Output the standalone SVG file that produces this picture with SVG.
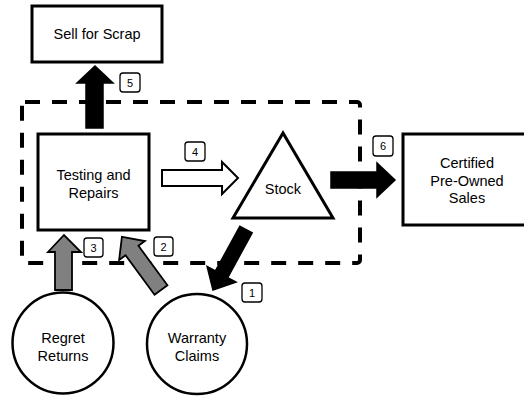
<svg xmlns="http://www.w3.org/2000/svg" width="524" height="400" viewBox="0 0 524 400">
<style>
text{font-family:"Liberation Sans",Arial,sans-serif;fill:#000;text-anchor:middle}
.n{font-size:14.5px}
.lb{font-size:11px}
.box{fill:#fff;stroke:#000;stroke-width:3}
.lbox{fill:#fff;stroke:#000;stroke-width:1.3}
.blk{fill:#000;stroke:#000;stroke-width:1.5;stroke-linejoin:miter}
.gry{fill:#808080;stroke:#000;stroke-width:1.8;stroke-linejoin:miter}
.wht{fill:#fff;stroke:#000;stroke-width:2;stroke-linejoin:miter}
</style>
<rect id="boundary" x="22" y="102" width="338" height="161" rx="3" fill="none" stroke="#000" stroke-width="4" stroke-dasharray="15 12"/>
<g id="connectors">
  <polygon class="blk" points="86,128 86,83 77,83 95,66 113,83 103,83 103,128"/>
  <polygon class="wht" points="162,170 222,170 222,162 238,178 222,194 222,186 162,186"/>
  <polygon class="blk" points="331,172 377,172 377,163 395,180 377,197 377,188 331,188"/>
  <polygon class="gry" points="55,290 55,252 48,252 64,235 81,252 72,252 72,290"/>
  <polygon class="blk" transform="translate(246,229.5) rotate(118.6)" points="0,-7 51,-7 51,-16.5 69,0 51,16.5 51,7 0,7"/>
  <polygon class="gry" transform="translate(161,290) rotate(-126.3)" points="0,-8 49,-8 49,-16 66,0 49,16 49,8 0,8"/>
  <g id="labels">
    <rect class="lbox" x="120" y="73" width="20" height="19" rx="3"/><text class="lb" x="130" y="86.5">5</text>
    <rect class="lbox" x="185" y="142" width="20" height="19" rx="3"/><text class="lb" x="195" y="155.5">4</text>
    <rect class="lbox" x="373" y="136" width="20" height="20" rx="3"/><text class="lb" x="383" y="150">6</text>
    <rect class="lbox" x="84" y="238" width="19" height="19" rx="3"/><text class="lb" x="93.5" y="251.5">3</text>
    <rect class="lbox" x="154" y="237" width="19" height="19" rx="3"/><text class="lb" x="163.5" y="250.5">2</text>
    <rect class="lbox" x="242" y="283" width="20" height="19" rx="3"/><text class="lb" x="252" y="296.5">1</text>
  </g>
</g>
<g id="sell-for-scrap">
  <rect class="box" x="32" y="6" width="130" height="56"/>
  <text class="n" x="97" y="39">Sell for Scrap</text>
</g>
<g id="testing-and-repairs">
  <rect class="box" x="38" y="134" width="111" height="96"/>
  <text class="n" x="93.5" y="180">Testing and</text>
  <text class="n" x="93.5" y="198">Repairs</text>
</g>
<g id="stock">
  <polygon class="box" points="283,133 233,218 333,218"/>
  <text class="n" x="283" y="194">Stock</text>
</g>
<g id="certified-pre-owned-sales">
  <rect class="box" x="403" y="134" width="128" height="91"/>
  <text class="n" x="467" y="168">Certified</text>
  <text class="n" x="467" y="186">Pre-Owned</text>
  <text class="n" x="467" y="203">Sales</text>
</g>
<g id="regret-returns">
  <circle cx="63" cy="343" r="50.5" fill="#fff" stroke="#000" stroke-width="2.5"/>
  <text class="n" x="63" y="343">Regret</text>
  <text class="n" x="63" y="361">Returns</text>
</g>
<g id="warranty-claims">
  <circle cx="197" cy="344" r="50" fill="#fff" stroke="#000" stroke-width="2.5"/>
  <text class="n" x="197" y="343">Warranty</text>
  <text class="n" x="197" y="361">Claims</text>
</g>
</svg>
